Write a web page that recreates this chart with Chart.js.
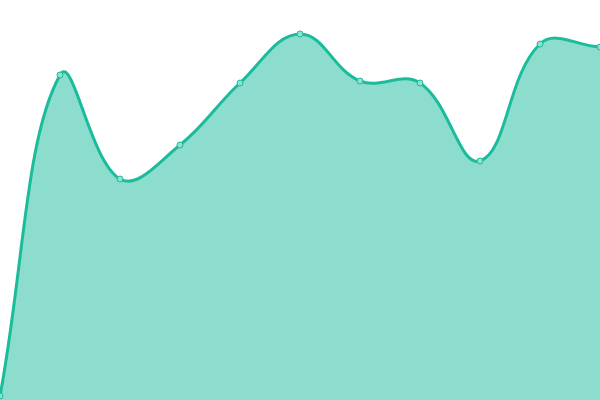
<!DOCTYPE html>
<html>
<head>
<meta charset="utf-8">
<script src="https://cdn.jsdelivr.net/npm/chart.js@4"></script>
<style>
  html, body { margin: 0; padding: 0; background: #fff; }
  #wrap { width: 600px; height: 400px; }
</style>
</head>
<body>
<div id="wrap"><canvas id="chart"></canvas></div>
<script>
const labels = ["1", "2", "3", "4", "5", "6", "7", "8", "9", "10", "11"];
const values = [4, 325, 221, 255, 317, 366, 319, 317, 239, 356, 353];

const ctx = document.getElementById("chart").getContext("2d");
new Chart(ctx, {
    type: 'line',
    data: {
        labels: labels,
        datasets: [{
            data: values,
            borderColor: '#1abc9c',
            backgroundColor: 'rgba(26, 188, 156, 0.5)',
            pointBackgroundColor: '#8fe0d0',
            pointBorderColor: '#1abc9c',
            pointBorderWidth: 1,
            pointRadius: 3,
            borderWidth: 3,
            tension: 0.4,
            fill: true
        }]
    },
    options: {
        responsive: true,
        maintainAspectRatio: false,
        animation: false,
        layout: { padding: 0, autoPadding: false },
        plugins: {
            legend: { display: false },
            tooltip: { enabled: false }
        },
        scales: {
            x: { display: false },
            y: { display: false, min: 0, max: 400 }
        }
    }
});
</script>
</body>
</html>
